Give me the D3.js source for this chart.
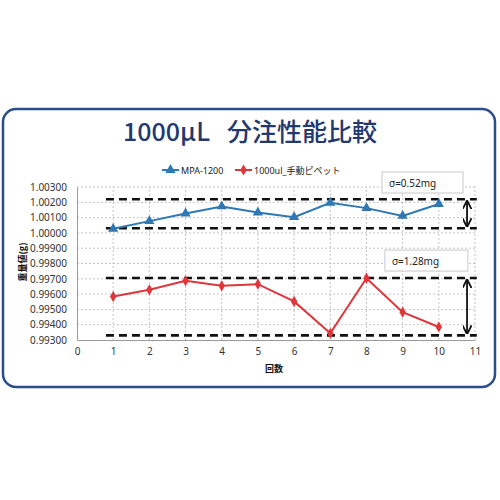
<!DOCTYPE html>
<html>
<head>
<meta charset="utf-8">
<script src="https://cdn.jsdelivr.net/npm/d3@7"></script>
<style>
body{margin:0;background:#fff;}
text{font-family:"Noto Sans","Noto Sans CJK JP",sans-serif;}
</style>
</head>
<body>
<div id="container"></div>
<script>
// data
const runs = [1,2,3,4,5,6,7,8,9,10];
const mpa = [1.00027,1.00077,1.00127,1.00173,1.00133,1.00103,1.00197,1.00162,1.00111,1.00189];
const manual = [0.99584,0.99628,0.99687,0.99654,0.99665,0.99552,0.99344,0.99704,0.99482,0.99385];
const seriesNames = ["MPA-1200","1000ul_手動ピペット"];
const xTicks = d3.range(0,12);
const yTicks = [0.993,0.994,0.995,0.996,0.997,0.998,0.999,1.000,1.001,1.002,1.003];
const mpaBand = [1.00030,1.00220];
const manualBand = [0.99330,0.99705];
const sigmaLabels = ["σ=0.52mg","σ=1.28mg"];

const width = 500, height = 500;
const blue = "#2d78b5", red = "#e0353a";

let svg = d3.select("#container").append("svg")
  .attr("width", width).attr("height", height);

// outer frame
svg.append("rect")
  .attr("x",3).attr("y",109).attr("width",492).attr("height",278)
  .attr("rx",13)
  .attr("fill","#fff").attr("stroke","#2c4d8a").attr("stroke-width",2.5);

svg.append("text")
  .attr("x",250).attr("y",141)
  .attr("text-anchor","middle")
  .attr("font-size",25).attr("font-weight",500)
  .attr("fill","#22386e")
  .style("font-family","'Noto Sans CJK JP',sans-serif")
  .style("white-space","pre")
  .text("1000μL   分注性能比較");

let x = d3.scaleLinear().domain([0,11]).range([77,475]);
let y = d3.scaleLinear().domain([0.993,1.003]).range([340,187]);

// grid
let grid = svg.append("g").attr("stroke","#b5b5b5").attr("stroke-width",0.8).attr("stroke-dasharray","2,2");
grid.selectAll(".gx").data(xTicks.slice(1)).join("line")
  .attr("x1",d=>x(d)).attr("x2",d=>x(d)).attr("y1",y(0.993)).attr("y2",y(1.003));
grid.selectAll(".gy").data(yTicks.slice(1)).join("line")
  .attr("x1",x(0)).attr("x2",x(11)).attr("y1",d=>y(d)).attr("y2",d=>y(d));

// axes
let xAxis = svg.append("g").attr("transform","translate(0,"+y(0.993)+")")
  .call(d3.axisBottom(x).tickValues(xTicks).tickSize(0).tickPadding(8));
let yAxis = svg.append("g").attr("transform","translate("+x(0)+",0)")
  .call(d3.axisLeft(y).tickValues(yTicks).tickSize(0).tickPadding(10).tickFormat(d3.format(".5f")));
[xAxis,yAxis].forEach(a=>{
  a.select(".domain").attr("stroke","#9a9a9a");
  a.selectAll("text").attr("font-size",10).attr("fill","#333")
    .style("font-family","'Noto Sans',sans-serif");
});

svg.append("text").attr("x",274).attr("y",372).attr("text-anchor","middle")
  .attr("font-size",9).attr("font-weight","bold").attr("fill","#111")
  .style("font-family","'Noto Sans CJK JP',sans-serif").text("回数");
svg.append("text").attr("transform","translate(26,262) rotate(-90)")
  .attr("text-anchor","middle").attr("font-size",9).attr("font-weight","bold").attr("fill","#111")
  .style("font-family","'Noto Sans CJK JP',sans-serif").text("重量値(g)");

// dashed band limits
let bands = [mpaBand, manualBand];
let bandG = svg.append("g").attr("stroke","#111").attr("stroke-width",2.6).attr("stroke-dasharray","8,5");
bands.forEach(b=>{
  bandG.selectAll(null).data(b).join("line")
    .attr("x1",x(0.8)).attr("x2",x(11.05)).attr("y1",d=>y(d)).attr("y2",d=>y(d));
});

// double arrows
let defs = svg.append("defs");
defs.append("marker").attr("id","ah").attr("viewBox","0 0 10 10")
  .attr("refX",9).attr("refY",5).attr("markerWidth",5).attr("markerHeight",5)
  .attr("orient","auto-start-reverse")
  .append("path").attr("d","M0,0 L10,5 L0,10").attr("fill","none").attr("stroke","#111").attr("stroke-width",2);
bands.forEach(b=>{
  svg.append("line").attr("x1",x(10.78)).attr("x2",x(10.78))
    .attr("y1",y(b[1])+2).attr("y2",y(b[0])-2)
    .attr("stroke","#111").attr("stroke-width",1.8)
    .attr("marker-start","url(#ah)").attr("marker-end","url(#ah)");
});

// sigma boxes
let boxPos = [[8.43,1.00398],[8.51,0.99888]];
sigmaLabels.forEach((t,i)=>{
  let bx = x(boxPos[i][0]), by = y(boxPos[i][1]);
  svg.append("rect").attr("x",bx).attr("y",by).attr("width",81 + i*2).attr("height",21)
    .attr("fill","#fff").attr("stroke","#c8c8c8").attr("stroke-width",1);
  svg.append("text").attr("x",bx+7).attr("y",by+14.5).attr("font-size",10).attr("fill","#222")
    .text(t);
});

// series
let line = d3.line().x((d,i)=>x(runs[i])).y(d=>y(d));
let series = [
  {vals:mpa,color:blue,sym:d3.symbolTriangle,size:45},
  {vals:manual,color:red,sym:d3.symbolDiamond,size:36}
];
series.forEach(s=>{
  svg.append("path").datum(s.vals).attr("d",line)
    .attr("fill","none").attr("stroke",s.color).attr("stroke-width",2);
  svg.selectAll(null).data(s.vals).join("path")
    .attr("d",d3.symbol().type(s.sym).size(s.size))
    .attr("transform",(d,i)=>"translate("+x(runs[i])+","+y(d)+")")
    .attr("fill",s.color);
});

// legend
let legX = [162,235];
series.forEach((s,i)=>{
  let g = svg.append("g").attr("transform","translate("+legX[i]+",170)");
  g.append("line").attr("x1",0).attr("x2",17).attr("stroke",s.color).attr("stroke-width",2);
  g.append("path").attr("d",d3.symbol().type(s.sym).size(s.size)).attr("transform","translate(8.5,0)").attr("fill",s.color);
  g.append("text").attr("x",19).attr("y",3.5).attr("font-size",9).attr("fill","#222")
    .style("font-family","'Noto Sans','Noto Sans CJK JP',sans-serif").text(seriesNames[i]);
});
</script>
</body>
</html>
